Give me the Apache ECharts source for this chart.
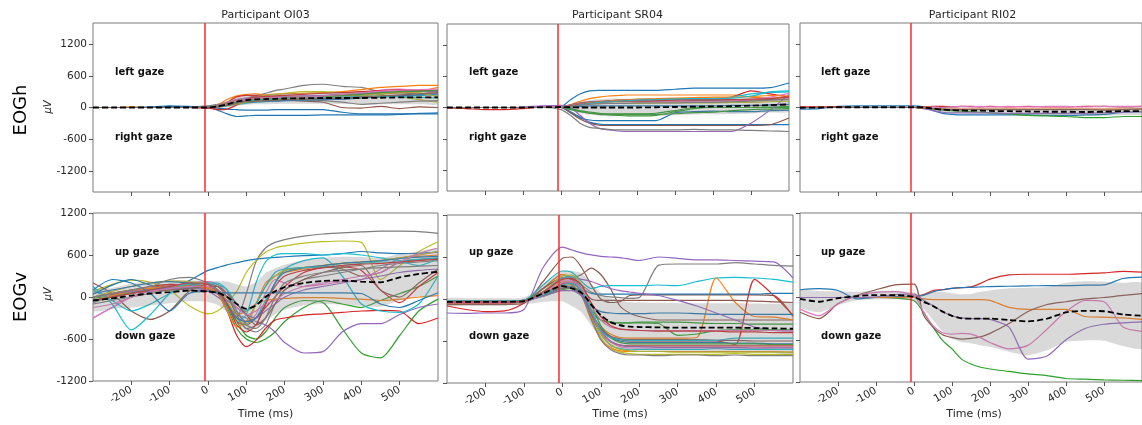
<!DOCTYPE html>
<html><head><meta charset="utf-8">
<script src="https://cdn.jsdelivr.net/npm/echarts@6/dist/echarts.min.js"></script>
<style>html,body{margin:0;padding:0;background:#fff}#c{width:1142px;height:425px}</style>
</head><body><div id="c"></div>
<script>
// ---------- shared axes / labels ----------
const TIME = [-300,-250,-200,-150,-100,-50,0,25,50,75,100,125,150,175,200,250,300,350,400,450,500,550,600];
const X_TICKS = [-200,-100,0,100,200,300,400,500];
const Y_TICKS = [-1200,-600,0,600,1200];
const STIM_ONSET = -9;
const PARTICIPANTS = ['Participant OI03','Participant SR04','Participant RI02'];
const ROW_LABELS = ['EOGh','EOGv'];
const UNIT_LABEL = 'μV';
const X_LABEL = 'Time (ms)';
const GAZE_LABELS = [['left gaze','right gaze'],['up gaze','down gaze']];
const PALETTE = ['#1f77b4','#ff7f0e','#2ca02c','#d62728','#9467bd','#8c564b','#e377c2','#7f7f7f','#bcbd22','#17becf'];

// ---------- OI03 horizontal ----------
const OI03_H = [
 [0,0,0,0,0,10,30,60,100,150,180,220,270,320,350,420,440,400,380,300,280,250,240],
 [0,0,10,0,0,0,0,50,150,220,250,260,240,250,260,270,280,300,340,380,400,420,420],
 [0,0,0,0,20,0,0,-50,-120,-170,-160,-150,-150,-150,-150,-150,-140,-140,-140,-140,-130,-110,-100],
 [0,0,0,10,30,20,0,-10,-30,-40,-50,-50,-50,-40,-40,-40,-40,-90,-120,-120,-120,-120,-120],
 [0,0,0,0,0,0,10,40,80,120,150,160,150,150,140,120,100,0,-10,20,-20,10,0],
 [0,0,0,0,0,0,-10,0,100,200,230,230,220,200,200,210,220,240,260,300,320,320,300],
 [0,0,0,0,0,0,0,20,60,100,150,200,230,250,270,300,300,280,280,250,200,150,100],
 [0,0,0,0,0,0,10,50,100,150,180,190,190,190,200,200,210,220,250,330,350,320,250],
 [0,0,0,0,0,0,0,10,30,60,80,100,110,120,130,140,150,160,180,200,220,230,250],
 [0,0,0,0,0,0,0,20,60,100,130,140,150,160,170,180,200,210,230,260,280,300,320],
 [0,0,0,0,0,0,0,40,90,140,170,180,190,200,210,220,230,250,270,300,320,320,300],
 [0,0,0,0,0,0,0,30,80,130,150,170,180,180,180,190,200,220,240,260,280,300,380],
 [0,0,0,0,0,0,20,40,60,80,100,120,130,130,140,150,130,100,60,80,100,120,130],
 [0,0,0,0,0,0,0,20,50,80,100,110,120,120,130,140,150,160,180,200,220,240,260],
 [0,0,0,0,0,0,-10,-40,-30,50,150,200,210,220,230,250,270,280,300,320,340,330,320],
 [0,0,0,0,0,0,0,10,40,70,100,120,140,150,160,170,180,200,220,260,300,280,200],
 [0,0,0,0,0,0,0,10,50,100,120,140,150,160,170,180,190,200,210,210,200,190,180],
 [0,0,0,0,0,0,0,30,70,110,140,160,170,180,190,200,210,230,250,280,300,310,330],
 [0,0,0,0,0,0,0,20,70,120,150,170,180,190,200,200,220,250,280,310,330,340,350],
 [0,0,0,0,0,0,0,10,40,80,110,120,130,140,150,160,170,180,200,220,240,260,280]
];
const OI03_H_COLORS = [7,1,0,0,5,3,8,6,9,2,4,1,7,0,3,8,9,2,6,5];
const OI03_H_MEAN = [0,0,0,0,0,0,0,20,60,110,140,155,160,165,170,175,180,180,180,185,190,190,190];
const OI03_H_SD = [10,10,10,10,15,15,20,35,60,80,90,95,100,100,100,105,110,115,120,125,130,130,130];

// ---------- SR04 horizontal ----------
const SR04_H = [
 [0,0,0,0,0,10,20,150,260,320,330,330,330,330,330,330,350,370,370,370,370,380,470],
 [0,0,0,0,0,0,10,50,120,170,200,220,230,240,240,240,240,240,240,240,200,180,200],
 [-10,-20,-40,-40,-20,10,20,50,90,110,120,130,140,140,140,150,150,150,160,200,320,260,200],
 [0,0,0,0,0,0,10,40,80,100,110,120,130,140,150,160,170,170,180,200,260,290,300],
 [0,0,0,0,0,0,0,-40,-80,-110,-130,-140,-150,-160,-160,-150,-80,-20,0,0,0,10,20],
 [0,0,0,0,0,0,0,-20,-60,-90,-110,-120,-120,-120,-120,-110,-60,0,0,0,0,0,0],
 [0,0,0,0,0,0,0,-100,-200,-240,-250,-250,-250,-250,-250,-250,-100,-80,-70,-80,-80,-60,-50],
 [0,0,0,0,0,0,0,-80,-180,-280,-320,-330,-330,-330,-330,-330,-330,-330,-330,-330,-330,-330,-330],
 [0,0,0,0,0,0,0,-100,-220,-300,-340,-345,-345,-345,-345,-345,-345,-345,-345,-345,-345,-330,-200],
 [0,0,0,0,10,30,40,0,-150,-300,-400,-430,-450,-460,-460,-460,-460,-460,-460,-460,-300,-50,250],
 [0,0,0,0,0,0,-40,-150,-300,-380,-400,-420,-430,-430,-430,-430,-430,-420,-430,-430,-440,-450,-460],
 [0,0,0,0,0,0,10,40,80,100,110,110,120,120,120,120,120,130,130,130,140,150,160],
 [0,0,0,0,0,10,20,40,70,90,100,110,110,110,110,120,120,120,120,130,150,200,270],
 [0,0,0,0,0,0,0,20,50,70,80,80,80,80,80,90,90,90,90,100,100,110,120],
 [0,0,0,0,0,0,0,-30,-70,-110,-120,-130,-130,-130,-130,-130,-120,-100,-90,-60,-40,-30,-20],
 [0,0,0,0,0,0,0,30,60,90,110,120,140,150,160,170,180,190,200,200,210,230,220],
 [0,0,0,0,0,0,0,30,60,80,100,110,120,120,120,130,140,150,150,150,160,170,200],
 [0,0,0,0,0,0,0,10,20,30,30,30,30,30,30,30,30,30,30,40,40,50,60],
 [0,0,0,0,0,0,0,20,50,80,100,110,120,130,140,150,160,170,170,180,220,300,320],
 [0,0,0,0,0,0,0,20,40,60,70,80,80,80,90,90,90,100,100,110,120,140,150]
];
const SR04_H_COLORS = [0,1,3,9,2,2,0,0,5,4,7,5,6,8,2,1,3,0,9,7];
const SR04_H_MEAN = [0,0,0,0,0,5,10,5,0,0,0,0,0,0,0,5,10,15,20,25,35,45,60];
const SR04_H_SD = [10,10,10,10,10,15,20,60,110,140,160,170,170,170,170,170,160,150,150,150,150,140,140];

// ---------- RI02 horizontal ----------
const RI02_H = [
 [-30,-20,20,30,30,30,30,10,-60,-110,-130,-140,-140,-140,-140,-140,-140,-150,-150,-140,-130,-90,-80],
 [0,0,0,0,0,0,0,-10,-30,-50,-60,-70,-80,-90,-100,-120,-150,-160,-170,-190,-190,-170,-170],
 [10,10,10,0,0,0,0,10,20,20,10,20,20,10,20,10,20,10,10,20,20,10,20],
 [0,0,0,0,0,0,0,0,10,0,10,20,10,20,10,20,10,20,20,10,20,20,20],
 [0,0,0,0,0,0,0,-20,-60,-90,-100,-100,-100,-100,-100,-110,-110,-110,-110,-110,-100,-90,-80],
 [0,0,0,0,0,0,0,-10,-20,-30,-30,-30,-30,-30,-30,-30,-30,-30,-30,-30,-30,-30,-30],
 [0,0,0,0,0,0,0,-10,-20,-30,-40,-40,-40,-40,-40,-40,-40,-40,-40,-40,-50,-40,-30]
];
const RI02_H_COLORS = [0,2,3,6,4,1,5];
const RI02_H_MEAN = [-5,0,5,5,5,5,5,0,-20,-40,-50,-55,-60,-60,-65,-70,-75,-80,-80,-85,-80,-70,-70];
const RI02_H_SD = [10,10,15,15,15,15,15,15,30,50,60,60,60,60,60,60,60,65,70,75,75,70,70];

// ---------- OI03 vertical ----------
const OI03_V = [
 [-80,0,60,120,180,160,100,40,-120,-280,50,500,700,780,820,870,900,915,930,940,940,935,910],
 [80,180,240,210,100,-120,-240,-200,-80,80,350,520,640,700,730,770,790,800,780,250,450,650,790],
 [40,170,250,170,120,230,380,420,460,490,520,540,555,565,575,590,600,620,650,630,620,625,640],
 [-20,20,60,100,130,140,120,60,-100,-350,-550,-600,-500,-300,-150,-50,-80,-450,-800,-870,-550,-200,-30],
 [0,50,100,120,150,160,150,80,-150,-450,-600,-650,-600,-500,-350,-150,-50,-100,-150,-50,50,150,300],
 [-300,-150,0,80,120,100,80,0,-100,-250,-300,-350,-400,-500,-650,-800,-780,-500,-380,-380,-250,-150,-100],
 [0,50,100,150,180,170,120,50,-200,-550,-710,-620,-450,-330,-300,-260,-240,-220,-200,-190,-200,-380,-300],
 [0,40,80,120,160,180,150,80,-100,-350,-400,-300,-150,0,150,350,420,430,380,100,-80,150,350],
 [200,50,-200,-320,-200,80,180,150,0,-250,-450,-400,-100,200,380,420,430,400,300,350,500,530,550],
 [-300,-150,0,100,150,200,220,180,50,-200,-350,-250,50,250,200,150,180,220,250,400,550,600,650],
 [-50,20,80,130,150,160,130,50,-200,-430,-350,-100,200,300,350,400,450,480,500,520,560,580,600],
 [0,50,100,120,140,150,120,50,-100,-250,-200,-100,-50,-30,-20,-10,-10,-20,-30,-50,-30,0,20],
 [150,-100,-470,-250,50,200,200,100,-100,-350,-250,200,500,600,620,620,600,620,600,560,520,540,560],
 [100,-50,-200,-100,50,150,200,200,100,-200,-380,-300,-50,200,400,520,560,300,-100,-200,-220,-100,300],
 [-100,-50,0,50,100,120,100,50,-100,-300,-450,-500,-400,-100,100,250,300,350,400,450,480,500,520],
 [0,80,150,200,230,220,180,100,-50,-300,-400,-100,150,300,380,420,450,480,500,520,560,600,650],
 [50,100,150,200,220,200,180,100,-100,-300,-350,-300,-100,200,350,420,450,480,500,520,550,570,580],
 [0,50,80,100,130,130,100,50,-50,-150,-250,-300,-200,-100,0,100,150,200,250,300,350,380,400],
 [-50,0,50,100,150,180,200,180,100,-100,-200,-100,150,350,400,420,430,450,480,500,500,450,550],
 [-50,0,50,80,100,120,150,150,50,-100,-250,-400,-300,-100,100,250,350,420,450,100,0,200,400],
 [-150,-100,0,80,120,150,150,100,0,-150,-250,-200,-100,-50,50,150,200,250,300,350,500,620,700],
 [100,250,200,50,-200,50,80,70,60,60,60,60,60,60,60,60,60,60,50,-100,-150,-50,60],
 [-50,0,50,100,150,200,180,100,-100,-400,-500,-400,-100,150,300,380,420,450,470,480,500,520,540],
 [0,50,100,150,250,280,200,100,0,-200,-400,-450,-300,0,200,300,350,380,400,420,430,440,450]
];
const OI03_V_COLORS = [7,8,0,2,2,4,3,3,5,6,1,1,9,9,7,8,0,4,9,5,6,0,3,7];
const OI03_V_MEAN = [-50,-20,20,50,70,90,80,60,0,-100,-170,-120,0,80,140,200,230,235,220,210,280,330,360];
const OI03_V_SD = [150,150,170,170,160,150,150,170,220,280,320,330,340,330,320,320,330,340,350,350,330,320,320];

// ---------- SR04 vertical ----------
const SR04_V = [
 [-200,-205,-200,-200,-150,450,740,700,660,630,610,600,590,570,550,600,580,560,560,550,540,530,300],
 [-80,-80,-80,-80,-60,250,580,600,450,200,0,-50,-40,50,60,60,60,60,60,60,60,50,-250],
 [-50,-50,-50,-50,-40,150,350,300,350,440,350,150,-100,-200,-250,-300,-300,-300,-300,-300,-300,-300,-300],
 [-40,-40,-40,-40,-30,100,300,280,200,100,50,30,20,10,20,480,500,500,500,520,500,480,470],
 [-30,-30,-30,-30,-20,200,400,380,250,150,180,190,190,190,190,200,190,250,300,310,300,280,240],
 [-50,-50,-50,-50,-40,150,350,300,100,-200,-400,-500,-550,-560,-560,-560,-560,-550,300,-50,-250,-260,-300],
 [-100,-150,-180,-170,-60,150,300,280,100,-200,-450,-550,-580,-600,-600,-600,-600,-600,-600,-650,280,50,-230],
 [-30,-30,-30,-30,-20,100,250,220,150,80,70,70,70,70,70,70,70,70,70,70,70,80,80],
 [-50,-50,-50,-50,-40,150,300,280,150,0,-20,-20,-20,-20,-20,-20,-20,-20,-20,-20,-30,-40,-50],
 [-30,-30,-30,-30,-20,100,200,150,50,-100,-180,-200,-210,-210,-210,-200,-200,-210,-220,-220,-220,-220,-220],
 [-40,-40,-40,-40,-30,100,250,200,50,-200,-300,-330,-340,-340,-330,-330,-330,-340,-350,-350,-360,-360,-360],
 [-40,-40,-40,-40,-30,100,300,300,280,250,200,150,120,100,80,50,-20,-100,-200,-300,-400,-450,-460],
 [-30,-30,-30,-30,-20,100,250,200,50,-150,-300,-330,-340,-340,-340,-350,-520,-500,-450,-440,-440,-440,-440],
 [-40,-40,-40,-40,-30,80,250,250,100,-250,-550,-700,-760,-780,-790,-790,-790,-790,-790,-780,-790,-790,-790],
 [-30,-30,-30,-30,-20,60,200,200,50,-300,-580,-690,-740,-750,-750,-750,-750,-750,-750,-750,-750,-750,-760],
 [-50,-50,-50,-50,-40,100,300,320,150,-200,-500,-660,-710,-725,-720,-720,-720,-720,-710,-720,-720,-720,-720],
 [-50,-50,-50,-50,-40,60,180,180,50,-280,-580,-720,-780,-800,-800,-810,-800,-800,-810,-800,-810,-810,-810],
 [-60,-60,-60,-60,-40,70,220,230,100,-220,-480,-610,-660,-670,-670,-670,-670,-670,-670,-670,-670,-670,-670],
 [-40,-40,-40,-40,-30,90,260,260,120,-180,-480,-610,-680,-700,-700,-700,-700,-700,-700,-700,-700,-690,-690],
 [-30,-30,-30,-30,-20,50,150,170,80,-180,-430,-550,-600,-620,-620,-620,-620,-620,-620,-630,-630,-640,-640],
 [-40,-40,-40,-40,-30,40,130,150,120,-80,-380,-550,-620,-640,-640,-640,-640,-640,-640,-640,-640,-650,-650],
 [-50,-50,-50,-50,-40,60,160,160,60,-200,-420,-530,-570,-580,-580,-580,-580,-580,-590,-590,-600,-600,-600],
 [-40,-40,-40,-40,-30,100,330,340,200,-150,-500,-650,-720,-740,-750,-750,-760,-760,-760,-760,-760,-760,-760],
 [-40,-40,-40,-40,-30,40,120,120,40,-200,-450,-600,-660,-680,-680,-690,-690,-690,-690,-690,-700,-700,-700],
 [-30,-30,-30,-30,-20,60,200,220,120,-150,-450,-550,-580,-590,-590,-590,-590,-590,-590,-560,-560,-560,-560],
 [-40,-40,-40,-40,-30,80,230,240,150,-100,-300,-400,-430,-440,-450,-450,-450,-450,-450,-450,-450,-450,-450],
 [-40,-40,-40,-40,-30,100,280,290,200,-50,-250,-380,-430,-440,-450,-460,-460,-460,-460,-470,-470,-480,-480]
];
const SR04_V_COLORS = [4,5,5,7,9,1,3,0,5,0,2,4,2,8,1,9,7,3,6,0,2,5,8,4,9,6,3];
const SR04_V_MEAN = [-40,-40,-40,-40,-30,80,185,150,90,-80,-230,-330,-375,-395,-400,-405,-410,-410,-410,-410,-415,-420,-425];
const SR04_V_SD = [50,50,50,50,50,120,220,250,280,300,320,340,350,350,350,350,350,350,350,350,350,350,350];

// ---------- RI02 vertical ----------
const RI02_V = [
 [0,0,0,0,0,10,10,40,100,110,130,140,150,200,260,320,330,330,330,340,350,370,360],
 [110,125,100,-20,0,10,20,30,80,110,130,140,145,150,155,160,165,170,170,175,180,270,290],
 [0,0,0,0,0,-10,-45,-210,-420,-610,-730,-875,-945,-990,-1015,-1050,-1085,-1110,-1150,-1160,-1170,-1175,-1180],
 [0,0,0,0,0,0,10,-20,-30,-30,-30,-30,-30,-30,-40,-140,-170,-170,-170,-270,-280,-290,-310],
 [-210,-300,-90,30,110,180,190,-250,-420,-530,-570,-590,-580,-560,-510,-370,-200,-100,-60,-20,0,30,55],
 [-165,-260,-90,25,73,83,25,-200,-400,-500,-520,-510,-520,-570,-640,-730,-680,-450,-200,-40,-60,-420,-480],
 [0,0,0,0,10,40,50,-40,-115,-200,-260,-290,-300,-300,-310,-420,-875,-830,-600,-440,-380,-360,-345]
];
const RI02_V_COLORS = [3,0,2,1,5,6,4];
const RI02_V_MEAN = [-20,-60,-10,20,35,35,10,-60,-120,-200,-260,-295,-300,-300,-300,-320,-340,-300,-210,-190,-195,-240,-260];
const RI02_V_SD = [120,150,100,60,60,60,60,100,200,280,320,340,350,380,400,450,480,450,420,420,420,450,460];

// ---------- panel assembly ----------
const PANELS = [
 {traces:OI03_H, colors:OI03_H_COLORS, mean:OI03_H_MEAN, sd:OI03_H_SD},
 {traces:SR04_H, colors:SR04_H_COLORS, mean:SR04_H_MEAN, sd:SR04_H_SD},
 {traces:RI02_H, colors:RI02_H_COLORS, mean:RI02_H_MEAN, sd:RI02_H_SD},
 {traces:OI03_V, colors:OI03_V_COLORS, mean:OI03_V_MEAN, sd:OI03_V_SD},
 {traces:SR04_V, colors:SR04_V_COLORS, mean:SR04_V_MEAN, sd:SR04_V_SD},
 {traces:RI02_V, colors:RI02_V_COLORS, mean:RI02_V_MEAN, sd:RI02_V_SD}
];
const LAYOUT = [
 {left:93, top:23, width:345, height:169},
 {left:447, top:24, width:342, height:167},
 {left:800, top:23, width:345, height:169},
 {left:93, top:213, width:345, height:168},
 {left:447, top:215, width:346, height:168},
 {left:800, top:213, width:348, height:169}
];
const FONT = '"DejaVu Sans", sans-serif';
const TXT = '#262626';

const grid=[], xAxis=[], yAxis=[], series=[];
PANELS.forEach((p,i)=>{
  const L = LAYOUT[i];
  const row = i<3?0:1;
  grid.push({left:L.left, top:L.top, width:L.width, height:L.height, show:true, borderColor:'#7a7a7a', borderWidth:1, backgroundColor:'transparent'});
  xAxis.push({gridIndex:i, type:'value', min:-300, max:600, position:'bottom',
    axisLine:{show:false, onZero:false}, splitLine:{show:false},
    axisTick:{show:true, inside:false, length:4, customValues:X_TICKS, lineStyle:{color:'#555'}},
    axisLabel:{show:row===1, customValues:X_TICKS, rotate:30, fontSize:10.5, color:TXT, margin:8, fontFamily:FONT,
      formatter:v=>String(v)}});
  yAxis.push({gridIndex:i, type:'value', min:row===0?-1600:-1200, max:row===0?1600:1200, position:'left',
    axisLine:{show:false, onZero:false}, splitLine:{show:false},
    axisTick:{show:true, inside:false, length:4, customValues:Y_TICKS, lineStyle:{color:'#555'}},
    axisLabel:{show:i%3===0, customValues:Y_TICKS, fontSize:10.5, color:TXT, margin:6, fontFamily:FONT,
      formatter:v=>String(v)}});
  p.traces.forEach((v,k)=>{
    const col = PALETTE[p.colors[k]];
    series.push({type:'line', xAxisIndex:i, yAxisIndex:i, silent:true, showSymbol:false, smooth:0.25, z:2,
      data:TIME.map((t,j)=>[t,v[j]]), lineStyle:{width:1.2, color:col}, itemStyle:{color:col}});
  });
  series.push({type:'custom', xAxisIndex:i, yAxisIndex:i, silent:true, z:3, clip:true,
    data:[[TIME[0], p.mean[0]]],
    renderItem:(params, api)=>{
      const up = TIME.map((t,j)=>api.coord([t, p.mean[j]+p.sd[j]]));
      const lo = TIME.map((t,j)=>api.coord([t, p.mean[j]-p.sd[j]])).reverse();
      return {type:'polygon', shape:{points:up.concat(lo), smooth:0.2}, style:{fill:'rgba(130,130,130,0.3)'}};
    }});
  series.push({type:'line', xAxisIndex:i, yAxisIndex:i, silent:true, showSymbol:false, smooth:0.25, z:5,
    data:TIME.map((t,j)=>[t,p.mean[j]]), lineStyle:{width:1.8, color:'#000', type:[6,3]}, itemStyle:{color:'#000'},
    markLine:{silent:true, symbol:'none', label:{show:false}, animation:false,
      lineStyle:{color:'#ff2a2a', width:1.5, type:'solid'}, data:[{xAxis:STIM_ONSET}]}});
});

const graphic = [];
const TITLE_X = [265.5, 617.5, 972.5];
PARTICIPANTS.forEach((s,i)=>graphic.push({type:'text', x:TITLE_X[i], y:15,
  style:{text:s, align:'center', verticalAlign:'middle', font:'11px '+FONT, fill:TXT}}));
const ROW_Y = [110, 297];
ROW_LABELS.forEach((s,r)=>{
  graphic.push({type:'text', x:21, y:ROW_Y[r], rotation:Math.PI/2,
    style:{text:s, align:'center', verticalAlign:'middle', font:'18px '+FONT, fill:'#000'}});
  graphic.push({type:'text', x:48, y:ROW_Y[r]-3, rotation:Math.PI/2,
    style:{text:UNIT_LABEL, align:'center', verticalAlign:'middle', font:'italic 10px '+FONT, fill:TXT}});
});
const GAZE_X = [115, 469, 821];
const GAZE_Y = [[72,137],[252,336]];
GAZE_LABELS.forEach((pair,r)=>GAZE_X.forEach(x=>pair.forEach((s,k)=>graphic.push({type:'text', x:x, y:GAZE_Y[r][k],
  style:{text:s, align:'left', verticalAlign:'middle', font:'bold 10px '+FONT, fill:'#111'}}))));
const XLAB_X = [265.5, 620, 974];
XLAB_X.forEach(x=>graphic.push({type:'text', x:x, y:414,
  style:{text:X_LABEL, align:'center', verticalAlign:'middle', font:'11px '+FONT, fill:TXT}}));

const chart = echarts.init(document.getElementById('c'), null, {renderer:'canvas'});
chart.setOption({animation:false, backgroundColor:'#fff', grid, xAxis, yAxis, series, graphic});
</script></body></html>
